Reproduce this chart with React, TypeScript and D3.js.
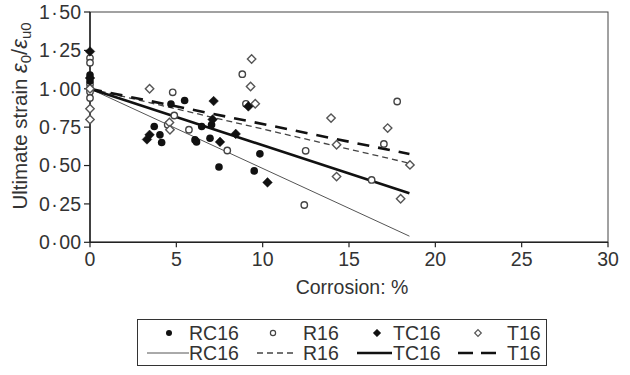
import React from "react";
import * as d3 from "d3";

const xTicks = [0, 5, 10, 15, 20, 25, 30];
const yTicks = [0, 0.25, 0.5, 0.75, 1.0, 1.25, 1.5];
const yTickLabels = ["0·00", "0·25", "0·50", "0·75", "1·00", "1·25", "1·50"];

const rc16Points: [number, number][] = [
  [0, 1.09], [0, 1.05], [3.72, 0.754], [4.05, 0.70], [4.15, 0.65], [4.69, 0.90], [5.48, 0.924],
  [6.08, 0.667], [6.17, 0.654], [6.47, 0.754], [6.95, 0.678], [7.04, 0.765],
  [7.47, 0.49], [9.84, 0.576], [9.51, 0.465],
];
const r16Points: [number, number][] = [
  [0, 1.2], [0, 1.17], [0, 1.03], [0, 1.0], [0, 0.98], [0, 0.94],
  [4.79, 0.977], [4.88, 0.826], [4.5, 0.765], [5.73, 0.733], [7.95, 0.598],
  [8.82, 1.095], [9.03, 0.902], [12.49, 0.596], [12.41, 0.243], [16.31, 0.406],
  [17.02, 0.641], [17.79, 0.917],
];
const tc16Points: [number, number][] = [
  [0, 1.243], [0, 1.07], [3.3, 0.67], [3.45, 0.70], [7.16, 0.92], [7.1, 0.80],
  [7.53, 0.654], [8.44, 0.706], [9.17, 0.885], [10.28, 0.39],
];
const t16Points: [number, number][] = [
  [0, 0.87], [0, 0.80], [0, 1.0], [3.45, 1.0], [4.6, 0.78], [4.63, 0.733],
  [9.3, 1.015], [9.36, 1.194], [9.57, 0.902], [13.96, 0.809], [14.28, 0.635],
  [14.28, 0.428], [17.24, 0.744], [17.99, 0.284], [18.53, 0.504],
];

const rc16Line: [number, number][] = [[0, 1.0], [18.5, 0.04]];
const r16Line: [number, number][] = [[0, 1.0], [18.5, 0.515]];
const tc16Line: [number, number][] = [[0, 1.0], [18.5, 0.32]];
const t16Line: [number, number][] = [[0, 1.0], [18.5, 0.575]];

const FONT = "'Liberation Sans', Arial, sans-serif";
const FS = 19.5;

const x = d3.scaleLinear().domain([0, 30]).range([90, 608]);
const y = d3.scaleLinear().domain([0, 1.5]).range([242.3, 12]);
const line = d3.line<[number, number]>().x((d) => x(d[0])).y((d) => y(d[1]));

function Diamond({ cx, cy, r, fill, stroke, sw }: any) {
  const p = `M${cx},${cy - r}L${cx + r},${cy}L${cx},${cy + r}L${cx - r},${cy}Z`;
  return <path d={p} fill={fill} stroke={stroke} strokeWidth={sw} />;
}

function TickLabel({ label }: { label: string }) {
  const [a, b] = label.split("·");
  return (
    <>
      {a}
      <tspan dx={1.5}>·</tspan>
      <tspan dx={1.5}>{b}</tspan>
    </>
  );
}

export default function App() {
  return (
    <svg width={630} height={375} style={{ position: "absolute", left: 0, top: 0, background: "#fff" }}>
      <rect x={x(0)} y={y(1.5)} width={x(30) - x(0)} height={y(0) - y(1.5)} fill="none" stroke="#444" strokeWidth={1} />
      <line x1={x(0)} x2={x(0)} y1={y(1.5)} y2={y(0)} stroke="#222" strokeWidth={1.5} />
      <line x1={x(0)} x2={x(30)} y1={y(0)} y2={y(0)} stroke="#222" strokeWidth={1.5} />
      {yTicks.map((t, i) => (
        <g key={"y" + i}>
          <line x1={x(0) - 6} x2={x(0)} y1={y(t)} y2={y(t)} stroke="#222" strokeWidth={1.2} />
          <text x={x(0) - 9} y={y(t)} dy="0.35em" textAnchor="end" fontFamily={FONT} fontSize={FS} fill="#333">
            <TickLabel label={yTickLabels[i]} />
          </text>
        </g>
      ))}
      {xTicks.map((t, i) => (
        <g key={"x" + i}>
          <line x1={x(t)} x2={x(t)} y1={y(0)} y2={y(0) + 5} stroke="#222" strokeWidth={1.2} />
          <text x={x(t)} y={y(0) + 24} textAnchor="middle" fontFamily={FONT} fontSize={FS} fill="#333">
            {t}
          </text>
        </g>
      ))}
      <text x={352} y={294} textAnchor="middle" fontFamily={FONT} fontSize={FS} fill="#333">
        Corrosion: %
      </text>
      <text transform="translate(27,116) rotate(-90)" textAnchor="middle" fontFamily={FONT} fontSize={20.5} fill="#333">
        Ultimate strain <tspan fontStyle="italic" fontSize={22}>ε</tspan>
        <tspan fontSize={15} dy={4}>0</tspan>
        <tspan dy={-4} fontSize={22}>/</tspan>
        <tspan fontStyle="italic" fontSize={22}>ε</tspan>
        <tspan fontSize={15} dy={4}>u0</tspan>
      </text>

      <path d={line(rc16Line) || ""} fill="none" stroke="#555" strokeWidth={1} />
      <path d={line(r16Line) || ""} fill="none" stroke="#444" strokeWidth={1.3} strokeDasharray="6,4" />
      <path d={line(tc16Line) || ""} fill="none" stroke="#111" strokeWidth={2.6} />
      <path d={line(t16Line) || ""} fill="none" stroke="#111" strokeWidth={2.6} strokeDasharray="12,9" />

      {r16Points.map((d, i) => (
        <circle key={"r" + i} cx={x(d[0])} cy={y(d[1])} r={3.2} fill="#fff" stroke="#444" strokeWidth={1.4} />
      ))}
      {t16Points.map((d, i) => (
        <Diamond key={"t" + i} cx={x(d[0])} cy={y(d[1])} r={4.2} fill="#fff" stroke="#555" sw={1.4} />
      ))}
      {rc16Points.map((d, i) => (
        <circle key={"rc" + i} cx={x(d[0])} cy={y(d[1])} r={3.8} fill="#111" />
      ))}
      {tc16Points.map((d, i) => (
        <Diamond key={"tc" + i} cx={x(d[0])} cy={y(d[1])} r={4.8} fill="#111" stroke="#111" sw={0.5} />
      ))}

      <rect x={137.5} y={319.5} width={409} height={46} fill="#fff" stroke="#333" strokeWidth={1} />
      <g fontFamily={FONT} fontSize={FS} fill="#333">
        <circle cx={169} cy={333} r={3} fill="#111" />
        <text x={189} y={340}>RC16</text>
        <circle cx={273} cy={333} r={2.6} fill="#fff" stroke="#444" strokeWidth={1.2} />
        <text x={303} y={340}>R16</text>
        <Diamond cx={377} cy={333} r={3.8} fill="#111" stroke="#111" sw={0.5} />
        <text x={393} y={340}>TC16</text>
        <Diamond cx={478} cy={333} r={3.3} fill="#fff" stroke="#555" sw={1.2} />
        <text x={507} y={340}>T16</text>

        <line x1={147} x2={189} y1={353} y2={353} stroke="#555" strokeWidth={1} />
        <text x={189} y={360}>RC16</text>
        <line x1={257} x2={295} y1={353} y2={353} stroke="#444" strokeWidth={1.3} strokeDasharray="6,4" />
        <text x={303} y={360}>R16</text>
        <line x1={357} x2={392} y1={353} y2={353} stroke="#111" strokeWidth={2.6} />
        <text x={393} y={360}>TC16</text>
        <line x1={458} x2={500} y1={353} y2={353} stroke="#111" strokeWidth={2.6} strokeDasharray="15,8" />
        <text x={507} y={360}>T16</text>
      </g>
    </svg>
  );
}
